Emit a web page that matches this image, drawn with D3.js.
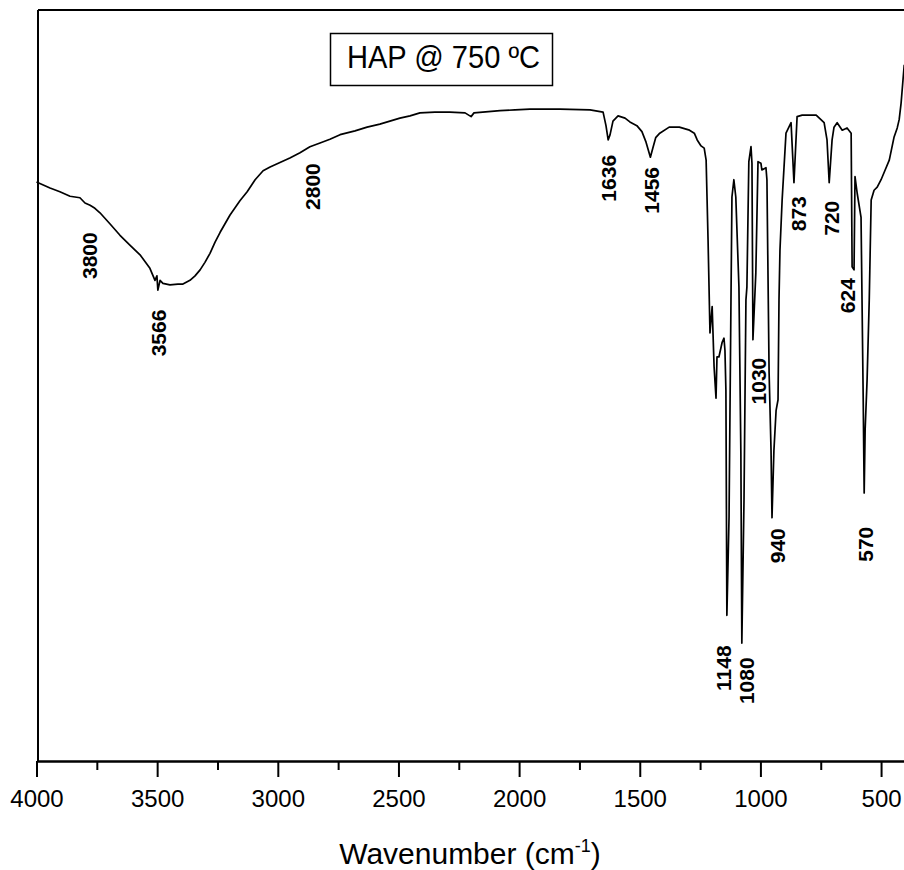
<!DOCTYPE html>
<html>
<head>
<meta charset="utf-8">
<script src="https://cdn.jsdelivr.net/npm/d3@7"></script>
<style>
  body { margin: 0; background: #fff; }
  text { font-family: "Liberation Sans", Arial, sans-serif; fill: #000; }
</style>
</head>
<body>
<div id="viz"></div>
<script>
// spectrum (wavenumber in cm-1, transmittance in arbitrary %)
var wavenumber = [4000, 3944, 3903, 3861, 3820, 3799, 3778, 3758, 3737, 3695, 3654, 3613, 3571, 3530,
  3509, 3501, 3497, 3488, 3476, 3447, 3414, 3393, 3364, 3343, 3322, 3302, 3281, 3260, 3239, 3198,
  3157, 3127, 3094, 3061, 3032, 2991, 2950, 2908, 2867, 2825, 2784, 2742, 2680, 2630, 2577, 2494,
  2452, 2411, 2349, 2287, 2224, 2199, 2187, 2079, 2017, 1955, 1831, 1706, 1652, 1640, 1631, 1623,
  1611, 1590, 1561, 1541, 1512, 1491, 1474, 1456, 1446, 1434, 1417, 1378, 1336, 1294, 1274, 1262,
  1246, 1233, 1225, 1221, 1217, 1209, 1200, 1192, 1184, 1180, 1172, 1159, 1151, 1147, 1143, 1139,
  1130, 1122, 1118, 1110, 1102, 1089, 1081, 1077, 1068, 1060, 1056, 1048, 1039, 1035, 1031, 1019,
  1010, 998, 994, 977, 973, 964, 956, 952, 944, 935, 927, 923, 919, 910, 894, 873, 861, 848, 827,
  769, 736, 724, 715, 703, 695, 682, 661, 641, 624, 620, 612, 608, 599, 583, 574, 570, 566, 558,
  549, 541, 529, 516, 500, 487, 466, 446, 433, 425, 417, 404];
var transmittance = [77.1, 76.3, 75.8, 75.2, 75.0, 74.3, 74.0, 73.6, 73.0, 71.5, 70.0, 68.7, 67.4, 65.6,
  64.0, 64.6, 62.7, 64.0, 63.6, 63.4, 63.5, 63.5, 64.0, 64.6, 65.4, 66.4, 67.6, 69.1, 70.4, 72.7,
  74.6, 75.8, 77.4, 78.6, 79.1, 79.7, 80.3, 81.0, 81.8, 82.3, 82.8, 83.4, 83.9, 84.4, 84.8, 85.6,
  85.9, 86.3, 86.4, 86.4, 86.3, 85.8, 86.3, 86.6, 86.7, 86.8, 86.8, 86.7, 86.4, 84.6, 82.7, 83.4,
  85.2, 85.9, 85.6, 85.1, 84.6, 83.8, 82.4, 80.4, 81.6, 83.0, 83.6, 84.4, 84.4, 84.0, 83.6, 82.7,
  81.9, 81.6, 80.0, 74.7, 69.4, 57.0, 60.5, 52.5, 48.3, 53.8, 53.8, 55.7, 56.3, 54.7, 49.4, 19.4,
  32.5, 61.4, 75.1, 77.4, 75.1, 63.1, 41.0, 15.7, 34.8, 61.4, 63.1, 79.8, 81.8, 79.6, 56.1, 65.0,
  79.8, 79.6, 78.7, 79.0, 77.4, 51.7, 41.4, 32.4, 41.4, 46.7, 48.1, 61.4, 68.0, 74.7, 83.6, 85.0, 77.0, 85.8, 86.0,
  86.0, 85.0, 82.7, 77.0, 82.7, 84.4, 85.0, 84.0, 84.3, 83.6, 65.8, 65.4, 77.8, 75.6, 72.4, 48.1, 35.7, 44.1, 50.7,
  61.4, 74.7, 76.0, 76.4, 77.4, 78.4, 80.0, 83.1, 84.3, 85.4, 87.6, 92.7];

// peak labels and where they hang (data coordinates of the top end of each label)
var peakLabels = ["3800", "3566", "2800", "1636", "1456", "1148", "1080", "1030", "940", "873", "720", "624", "570"];
var peakAnchorWn = [3778, 3492, 2854, 1631, 1449, 1151, 1056, 1006, 927, 840, 703, 637, 566];
var peakAnchorT = [70.4, 60.1, 79.6, 80.7, 79.1, 15.4, 13.8, 53.7, 31.0, 75.2, 74.6, 64.3, 31.2];

var majorTicks = [4000, 3500, 3000, 2500, 2000, 1500, 1000, 500];
var minorTicks = [3750, 3250, 2750, 2250, 1750, 1250, 750];
var chartTitle = "HAP @ 750 ºC";

var width = 904, height = 870;
var svg = d3.select("#viz").append("svg")
  .attr("width", width)
  .attr("height", height);

var x = d3.scaleLinear().domain([4000, 400]).range([36.5, 905.2]);
var y = d3.scaleLinear().domain([0, 100]).range([761, 10]);

var data = wavenumber.map(function(w, i) { return [w, transmittance[i]]; });

// frame: left axis and top line
svg.append("line")
  .attr("x1", 38).attr("x2", 38)
  .attr("y1", y(100)).attr("y2", y(0))
  .style("stroke", "#000").style("stroke-width", 2);
svg.append("line")
  .attr("x1", 38).attr("x2", width)
  .attr("y1", y(100)).attr("y2", y(100))
  .style("stroke", "#000").style("stroke-width", 2);

// x axis
var xAxis = svg.append("g")
  .attr("transform", "translate(0," + y(0) + ")")
  .call(d3.axisBottom(x).tickValues(majorTicks).tickSize(16).tickSizeOuter(0).tickPadding(13)
    .tickFormat(d3.format("d")));
xAxis.select(".domain").style("stroke", "#000").style("stroke-width", 2.5);
xAxis.selectAll(".tick line").style("stroke", "#000").style("stroke-width", 2);
xAxis.selectAll(".tick text")
  .style("font-size", "24px")
  .style("font-family", "'Liberation Sans', Arial, sans-serif");

var xMinor = svg.append("g")
  .attr("transform", "translate(0," + y(0) + ")")
  .call(d3.axisBottom(x).tickValues(minorTicks).tickSize(9).tickFormat(""));
xMinor.select(".domain").remove();
xMinor.selectAll(".tick line").style("stroke", "#000").style("stroke-width", 2);

// axis title
var xt = svg.append("text")
  .attr("x", 470)
  .attr("y", 864)
  .attr("text-anchor", "middle")
  .style("font-size", "30px");
xt.append("tspan").text("Wavenumber (cm");
xt.append("tspan").attr("dy", -12).style("font-size", "18px").text("-1");
xt.append("tspan").attr("dy", 12).text(")");

// spectrum
var line = d3.line()
  .x(function(d) { return x(d[0]); })
  .y(function(d) { return y(d[1]); });
svg.append("path")
  .datum(data)
  .attr("d", line)
  .style("fill", "none")
  .style("stroke", "#000")
  .style("stroke-width", 1.7)
  .style("stroke-linejoin", "round");

// peak labels, rotated to read upwards
peakLabels.forEach(function(lab, i) {
  var px = x(peakAnchorWn[i]), py = y(peakAnchorT[i]);
  svg.append("text")
    .attr("transform", "translate(" + px + "," + py + ") rotate(-90)")
    .attr("text-anchor", "end")
    .attr("dy", "0.35em")
    .style("font-size", "21px")
    .style("font-weight", "bold")
    .text(lab);
});

// title box
svg.append("rect")
  .attr("x", 330.5).attr("y", 33.5)
  .attr("width", 222).attr("height", 52)
  .style("fill", "#fff")
  .style("stroke", "#000")
  .style("stroke-width", 1.5);
svg.append("text")
  .attr("x", 347)
  .attr("y", 68)
  .attr("textLength", 193)
  .attr("lengthAdjust", "spacingAndGlyphs")
  .style("font-size", "31px")
  .text(chartTitle);
</script>
</body>
</html>
